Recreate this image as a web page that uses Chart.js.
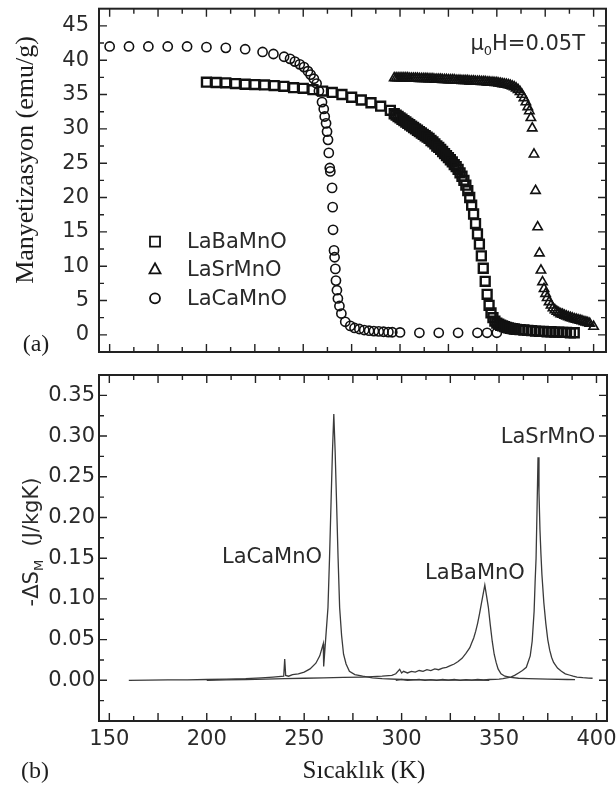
<!DOCTYPE html>
<html>
<head>
<meta charset="utf-8">
<script src="https://cdn.jsdelivr.net/npm/chart.js@4.4.0/dist/chart.umd.min.js"></script>
<style>
  html, body { margin: 0; padding: 0; background: #fff; }
  #wrap { position: relative; width: 616px; height: 791px; }
  #wrap canvas { position: absolute; left: 0; }
</style>
</head>
<body>
<div id="wrap">
  <canvas id="magChart" width="616" height="365" style="top:0"></canvas>
  <canvas id="entChart" width="616" height="426" style="top:365px"></canvas>
</div>
<script>
// (a) magnetization vs temperature
const caT = [150, 160, 170, 180, 190, 200, 210, 220, 229, 234.6, 240.1, 243.2, 245.7, 248.2, 250.4, 252.4, 253.8, 255.5, 256.9, 258.1,
  259.7, 260.6, 261.1, 261.8, 262.3, 262.8, 263.2, 263.7, 264.0, 264.9, 265.2, 265.4, 265.9, 266.2, 266.6, 266.9, 267.4, 267.9, 268.7, 269.7, 271.7,
  274.3, 276.5, 279, 281.5, 284, 286.5, 289, 291.5, 294, 296, 300, 310, 320, 330, 340, 345, 350];
const caM = [42.0, 42.0, 42.0, 42.0, 42.0, 41.9, 41.8, 41.6, 41.2, 40.9, 40.5, 40.2, 39.8, 39.4, 39.0, 38.4, 37.9, 37.3, 36.6, 35.5,
  33.9, 32.9, 31.8, 30.8, 29.6, 28.4, 26.5, 24.3, 23.8, 21.4, 18.6, 15.3, 12.3, 11.3, 9.6, 7.9, 6.5, 5.3, 4.2, 3.1, 1.9,
  1.3, 1.0, 0.85, 0.7, 0.6, 0.55, 0.5, 0.45, 0.4, 0.38, 0.35, 0.3, 0.3, 0.3, 0.3, 0.3, 0.3];

const baT = [200, 205, 210, 215, 220, 225, 230, 235, 240, 245, 250, 255, 260, 265, 270, 275, 280, 285, 290, 295,
  297, 298, 299, 300, 301, 302, 303, 304, 305, 306, 307, 308, 309, 310, 311, 312, 313, 314, 315, 316,
  317, 318, 319, 320, 321, 322, 323, 324, 325, 326, 327, 328, 329, 330, 331, 332, 333, 334, 335, 336,
  337, 338, 339, 340, 341, 342, 343, 344, 345, 346, 347, 348, 349, 350, 351, 352, 353, 354, 355, 356,
  357, 358, 359, 360, 362, 364, 366, 368, 370, 372, 374, 376, 378, 380, 382, 384, 386, 388, 390];
const baM = [36.8, 36.75, 36.7, 36.6, 36.5, 36.45, 36.4, 36.3, 36.2, 36.0, 35.9, 35.7, 35.5, 35.3, 35.0, 34.6, 34.2, 33.8, 33.3, 32.7,
  32.2, 32.0, 31.8, 31.6, 31.4, 31.2, 31.0, 30.8, 30.6, 30.4, 30.2, 30.0, 29.8, 29.6, 29.4, 29.2, 29.0, 28.8, 28.6, 28.3,
  28.1, 27.8, 27.5, 27.3, 27.0, 26.7, 26.4, 26.1, 25.8, 25.5, 25.2, 24.8, 24.5, 24.1, 23.6, 23.1, 22.5, 21.8, 21.0, 20.0,
  18.9, 17.6, 16.2, 14.7, 13.2, 11.5, 9.7, 7.8, 5.9, 4.3, 3.2, 2.5, 2.0, 1.7, 1.55, 1.4, 1.3, 1.2, 1.1, 1.0,
  0.95, 0.9, 0.85, 0.8, 0.75, 0.7, 0.65, 0.6, 0.55, 0.5, 0.5, 0.45, 0.45, 0.4, 0.4, 0.35, 0.35, 0.3, 0.3];

const srT = [297, 298, 299, 300, 301, 302, 303, 304, 305, 306, 307, 308, 309, 310, 311, 312, 313, 314, 315, 316,
  317, 318, 319, 320, 321, 322, 323, 324, 325, 326, 327, 328, 329, 330, 331, 332, 333, 334, 335, 336,
  337, 338, 339, 340, 341, 342, 343, 344, 345, 346, 347, 348, 349, 350, 351, 352, 353, 354, 355, 356,
  357, 358, 359, 360, 361, 362, 363, 364, 365, 366,
  366.8, 367.6, 368.3, 369.2, 370.0, 371.1, 372.0, 372.8, 373.6, 374.4, 375.2,
  376, 377, 378, 379, 380, 381, 382, 383, 384, 385, 386, 387, 388, 389, 390, 391, 392, 393, 394, 395, 396, 397, 398, 400];
const srM = [37.4, 37.4, 37.4, 37.4, 37.4, 37.4, 37.4, 37.4, 37.35, 37.35, 37.35, 37.35, 37.35, 37.3, 37.3, 37.3, 37.3, 37.3, 37.25, 37.25,
  37.25, 37.2, 37.2, 37.2, 37.2, 37.15, 37.15, 37.15, 37.1, 37.1, 37.1, 37.1, 37.05, 37.05, 37.05, 37.0, 37.0, 37.0, 37.0, 36.95,
  36.95, 36.95, 36.9, 36.9, 36.9, 36.85, 36.85, 36.85, 36.8, 36.8, 36.75, 36.75, 36.7, 36.7, 36.65, 36.6, 36.55, 36.5, 36.45, 36.4,
  36.3, 36.2, 36.1, 35.9, 35.7, 35.4, 35.0, 34.5, 33.9, 33.2,
  32.6, 31.6, 30.1, 26.3, 21.0, 15.7, 11.9, 9.4, 7.7, 6.7, 6.0,
  5.4, 4.8, 4.3, 3.9, 3.6, 3.4, 3.2, 3.05, 2.95, 2.8, 2.7, 2.6, 2.5, 2.4, 2.3, 2.25, 2.15, 2.1, 2.0, 1.9, 1.85, 1.75, 1.65, 1.2];

// (b) -dS_M vs temperature
const caDsT = [160, 170, 180, 190, 200, 210, 220, 228, 234, 239.5, 240, 240.5, 242, 244, 247, 250, 253, 256, 258, 259.8,
  260, 261, 262.2, 263, 263.8, 264.5, 265.2, 265.9, 266.6, 267.4, 268.2, 269.2, 270.2, 271.5, 273.2, 276, 280, 285, 290, 300,
  310, 320, 330, 340, 345];
const caDs = [0, 0.0002, 0.0004, 0.0006, 0.001, 0.0015, 0.002, 0.003, 0.004, 0.005, 0.026, 0.006, 0.005, 0.007, 0.008, 0.010, 0.014, 0.021, 0.030, 0.045,
  0.017, 0.05, 0.089, 0.15, 0.22, 0.28, 0.327, 0.28, 0.22, 0.15, 0.089, 0.055, 0.032, 0.02, 0.011, 0.007, 0.005, 0.003, 0.002, 0.001,
  0.0005, 0.0003, 0.0002, 0.0001, 0];

const baDsT = [200, 210, 220, 230, 240, 250, 260, 270, 280, 290, 295, 297, 299, 300, 301, 303, 305, 307, 309, 311,
  313, 315, 317, 319, 321, 323, 325, 327, 329, 331, 333, 335, 336, 337, 338, 339, 340, 341, 342, 342.7,
  343.5, 344.5, 345.5, 346.5, 347.5, 348.5, 349.5, 351, 353, 356, 360, 365, 375, 385, 389];
const baDs = [0, 0.0005, 0.001, 0.0015, 0.002, 0.0025, 0.003, 0.0035, 0.004, 0.005, 0.006, 0.008, 0.0135, 0.009, 0.011, 0.009, 0.011, 0.010, 0.012, 0.011,
  0.013, 0.012, 0.014, 0.013, 0.015, 0.016, 0.018, 0.020, 0.023, 0.027, 0.033, 0.040, 0.046, 0.052, 0.060, 0.070, 0.082, 0.095, 0.108, 0.117,
  0.105, 0.09, 0.068, 0.048, 0.032, 0.022, 0.014, 0.008, 0.005, 0.0035, 0.0025, 0.002, 0.0015, 0.001, 0.0007];

const srDsT = [297, 300, 303, 306, 309, 312, 315, 318, 321, 324, 327, 330, 333, 336, 339, 342, 345, 348, 350, 352,
  354, 356, 358, 360, 362, 364, 366, 367, 368, 368.5, 369, 369.5, 370, 370.5, 371, 371.5, 372, 373, 374, 375,
  376, 377, 378, 380, 382, 384, 386, 388, 390, 393, 396, 398];
const srDs = [0, 0.001, 0, 0.0005, 0.001, 0, 0.0008, 0, 0.001, 0.0003, 0.001, 0, 0.0008, 0.0002, 0.001, 0.0005, 0.001, 0.0012, 0.0015, 0.002,
  0.003, 0.004, 0.006, 0.009, 0.012, 0.016, 0.030, 0.048, 0.085, 0.12, 0.15, 0.21, 0.274, 0.23, 0.185, 0.155, 0.13, 0.095, 0.07, 0.05,
  0.037, 0.028, 0.022, 0.015, 0.011, 0.008, 0.0065, 0.005, 0.004, 0.0032, 0.0027, 0.0025];

const seriesNames = ['LaBaMnO', 'LaSrMnO', 'LaCaMnO'];
const tempTicks = [150, 200, 250, 300, 350, 400];
const magTicks = [0, 5, 10, 15, 20, 25, 30, 35, 40, 45];
const dsTicks = [0, 0.05, 0.10, 0.15, 0.20, 0.25, 0.30, 0.35];

Chart.defaults.font.family = '"DejaVu Sans", sans-serif';
Chart.defaults.font.size = 21;
Chart.defaults.color = '#2a2a2a';

const pts = (xs, ys) => xs.map((x, i) => ({ x: x, y: ys[i] }));
const fixTicks = list => s => { s.ticks = list.map(v => ({ value: v })); };

// box round the plot and inward ticks on all four sides
const frameTicks = {
  id: 'frameTicks',
  afterDatasetsDraw(chart, args, o) {
    const { ctx, chartArea: a } = chart;
    const sx = chart.scales.x, sy = chart.scales.y;
    ctx.save();
    ctx.strokeStyle = '#222';
    ctx.lineWidth = 1.4;
    ctx.beginPath();
    for (let k = Math.ceil(sx.min / o.xStep - 1e-6); k * o.xStep <= sx.max + 1e-9; k++) {
      const p = sx.getPixelForValue(k * o.xStep);
      if (p < a.left + 2 || p > a.right - 2) continue;
      const len = k % 2 === 0 ? 8 : 5;
      ctx.moveTo(p, a.bottom); ctx.lineTo(p, a.bottom - len);
      ctx.moveTo(p, a.top); ctx.lineTo(p, a.top + len);
    }
    for (let k = Math.ceil(sy.min / o.yStep - 1e-6); k * o.yStep <= sy.max + 1e-9; k++) {
      const p = sy.getPixelForValue(k * o.yStep);
      if (p < a.top + 2 || p > a.bottom - 2) continue;
      const len = k % 2 === 0 ? 8 : 5;
      ctx.moveTo(a.left, p); ctx.lineTo(a.left + len, p);
      ctx.moveTo(a.right, p); ctx.lineTo(a.right - len, p);
    }
    ctx.stroke();
    ctx.lineWidth = 2;
    ctx.strokeRect(a.left, a.top, a.right - a.left, a.bottom - a.top);
    ctx.restore();
  }
};

function rotText(ctx, text, x, y) {
  ctx.save();
  ctx.translate(x, y);
  ctx.rotate(-Math.PI / 2);
  ctx.fillText(text, 0, 0);
  ctx.restore();
}

function marker(ctx, style, x, y) {
  ctx.beginPath();
  if (style === 'rect') ctx.rect(x - 5, y - 5, 10, 10);
  else if (style === 'triangle') { ctx.moveTo(x, y - 6); ctx.lineTo(x + 5.5, y + 4); ctx.lineTo(x - 5.5, y + 4); ctx.closePath(); }
  else ctx.arc(x, y, 5, 0, Math.PI * 2);
  ctx.stroke();
}

const magText = {
  id: 'magText',
  afterDraw(chart) {
    const ctx = chart.ctx;
    ctx.save();
    ctx.fillStyle = '#1e1e1e';
    ctx.textAlign = 'center';
    ctx.textBaseline = 'alphabetic';
    ctx.font = '26px "Liberation Serif"';
    rotText(ctx, 'Manyetizasyon (emu/g)', 33, 160);
    ctx.font = '24px "Liberation Serif"';
    ctx.fillText('(a)', 36, 351);

    // field label with subscript
    ctx.textAlign = 'left';
    ctx.fillStyle = '#2a2a2a';
    ctx.font = '21px "DejaVu Sans"';
    const w1 = ctx.measureText('\u03bc').width, w3 = ctx.measureText('H=0.05T').width;
    ctx.font = '13px "DejaVu Sans"';
    const w2 = ctx.measureText('0').width;
    let x = 585 - (w1 + w2 + w3);
    ctx.font = '21px "DejaVu Sans"';
    ctx.fillText('\u03bc', x, 50); x += w1;
    ctx.font = '13px "DejaVu Sans"';
    ctx.fillText('0', x, 55); x += w2;
    ctx.font = '21px "DejaVu Sans"';
    ctx.fillText('H=0.05T', x, 50);

    // legend
    const rows = [241.7, 269.3, 298.3];
    seriesNames.forEach((name, i) => {
      const ds = chart.data.datasets.find(d => d.label === name);
      ctx.strokeStyle = '#111';
      ctx.lineWidth = 1.8;
      marker(ctx, ds.pointStyle, 155, rows[i]);
      ctx.fillStyle = '#2a2a2a';
      ctx.textBaseline = 'middle';
      ctx.fillText(name, 187, rows[i] + 1);
    });
    ctx.restore();
  }
};

const entText = {
  id: 'entText',
  afterDraw(chart) {
    const ctx = chart.ctx;
    ctx.save();
    ctx.fillStyle = '#2a2a2a';
    ctx.textBaseline = 'alphabetic';
    ctx.textAlign = 'center';
    ctx.font = '21px "DejaVu Sans"';
    ctx.fillText('LaCaMnO', 272, 198);
    ctx.fillText('LaBaMnO', 475, 214);
    ctx.fillText('LaSrMnO', 548, 78);

    // rotated y title: -ΔS_M (J/kgK)
    const big = '21px "DejaVu Sans"', small = '13px "DejaVu Sans"';
    ctx.font = big;
    const a = ctx.measureText('-\u0394S').width, c = ctx.measureText('  (J/kgK)').width;
    ctx.font = small;
    const b = ctx.measureText('M').width;
    ctx.save();
    ctx.translate(38, 177);
    ctx.rotate(-Math.PI / 2);
    ctx.textAlign = 'left';
    let x = -(a + b + c) / 2;
    ctx.font = big; ctx.fillText('-\u0394S', x, 0); x += a;
    ctx.font = small; ctx.fillText('M', x, 5); x += b;
    ctx.font = big; ctx.fillText('  (J/kgK)', x, 0);
    ctx.restore();

    ctx.fillStyle = '#1e1e1e';
    ctx.textAlign = 'center';
    ctx.font = '25px "Liberation Serif"';
    ctx.fillText('S\u0131cakl\u0131k (K)', 364, 413);
    ctx.font = '24px "Liberation Serif"';
    ctx.fillText('(b)', 35, 413);
    ctx.restore();
  }
};

const noGrid = { display: false, drawTicks: false };
// hollow markers: no fill, so dense runs merge into dark bands
const markerStyle = { borderColor: '#111', backgroundColor: 'rgba(255,255,255,0)' };

new Chart(document.getElementById('magChart'), {
  type: 'scatter',
  data: {
    datasets: [
      Object.assign({ label: 'LaCaMnO', data: pts(caT, caM), pointStyle: 'circle', pointRadius: 4.6, borderWidth: 1.6 }, markerStyle),
      Object.assign({ label: 'LaBaMnO', data: pts(baT, baM), pointStyle: 'rect', pointRadius: 6.3, borderWidth: 2.4 }, markerStyle),
      Object.assign({ label: 'LaSrMnO', data: pts(srT, srM), pointStyle: 'triangle', pointRadius: 5.4, borderWidth: 1.6 }, markerStyle)
    ]
  },
  options: {
    responsive: false,
    animation: false,
    layout: { padding: { top: 6, right: 10, left: 0, bottom: 0 } },
    plugins: {
      legend: { display: false },
      tooltip: { enabled: false },
      frameTicks: { xStep: 12.5, yStep: 2.5 }
    },
    scales: {
      x: {
        type: 'linear', min: 144.5, max: 406.4,
        grid: noGrid, border: { display: false },
        ticks: { display: false },
        afterFit: s => { s.height = 13; s.paddingLeft = 0; s.paddingRight = 0; }
      },
      y: {
        min: -2.5, max: 47.5,
        grid: noGrid, border: { display: false },
        ticks: { autoSkip: false, padding: 10, callback: v => String(v) },
        afterBuildTicks: fixTicks(magTicks),
        afterFit: s => { s.width = 99; s.paddingTop = 0; s.paddingBottom = 0; }
      }
    }
  },
  plugins: [frameTicks, magText]
});

const lineStyle = { showLine: true, pointRadius: 0, borderColor: '#3a3a3a', borderWidth: 1.3, tension: 0 };

new Chart(document.getElementById('entChart'), {
  type: 'scatter',
  data: {
    datasets: [
      Object.assign({ label: 'LaCaMnO', data: pts(caDsT, caDs) }, lineStyle),
      Object.assign({ label: 'LaBaMnO', data: pts(baDsT, baDs) }, lineStyle),
      Object.assign({ label: 'LaSrMnO', data: pts(srDsT, srDs) }, lineStyle)
    ]
  },
  options: {
    responsive: false,
    animation: false,
    layout: { padding: { top: 10, right: 9, left: 0, bottom: 0 } },
    plugins: {
      legend: { display: false },
      tooltip: { enabled: false },
      frameTicks: { xStep: 12.5, yStep: 0.025 }
    },
    scales: {
      x: {
        type: 'linear', min: 144.7, max: 405.4,
        grid: noGrid, border: { display: false },
        ticks: { autoSkip: false, maxRotation: 0, padding: 6, callback: v => String(v) },
        afterBuildTicks: fixTicks(tempTicks),
        afterFit: s => { s.height = 70; s.paddingLeft = 0; s.paddingRight = 0; }
      },
      y: {
        min: -0.05, max: 0.375,
        grid: noGrid, border: { display: false },
        ticks: { autoSkip: false, padding: 4, callback: v => v.toFixed(2) },
        afterBuildTicks: fixTicks(dsTicks),
        afterFit: s => { s.width = 99; s.paddingTop = 0; s.paddingBottom = 0; }
      }
    }
  },
  plugins: [frameTicks, entText]
});
</script>
</body>
</html>
